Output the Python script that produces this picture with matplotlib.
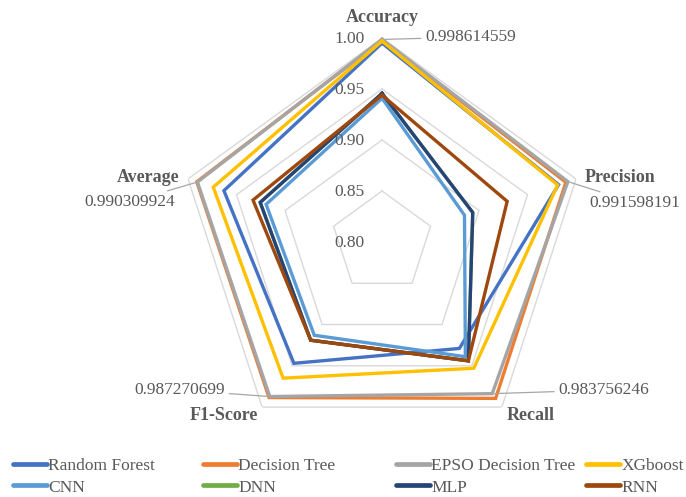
import numpy as np
import matplotlib
matplotlib.use("Agg")
import matplotlib.pyplot as plt
from matplotlib.lines import Line2D

# ---- data ----
categories = ["Accuracy", "Precision", "Recall", "F1-Score", "Average"]

random_forest = [0.995, 0.982, 0.929, 0.947, 0.963]
decision_tree = [0.998, 0.9895, 0.9895, 0.9885, 0.991]
epso_tree = [0.998614559, 0.991598191, 0.983756246, 0.987270699, 0.990309924]
xgboost = [0.997, 0.981, 0.953, 0.965, 0.974]
cnn = [0.941, 0.885, 0.939, 0.913, 0.9195]
dnn = [0.9457, 0.8935, 0.944, 0.919, 0.9256]
mlp = [0.9457, 0.8935, 0.944, 0.919, 0.9256]
rnn = [0.944, 0.929, 0.944, 0.919, 0.933]

series_names = ["Random Forest", "Decision Tree", "EPSO Decision Tree", "XGboost",
                "CNN", "DNN", "MLP", "RNN"]
series_values = [random_forest, decision_tree, epso_tree, xgboost, cnn, dnn, mlp, rnn]
colors = ["#4472C4", "#ED7D31", "#A5A5A5", "#FFC000",
          "#5B9BD5", "#70AD47", "#264478", "#9E480E"]

ring_values = [0.85, 0.90, 0.95, 1.00]
tick_values = [0.80, 0.85, 0.90, 0.95, 1.00]

plt.rcParams["font.family"] = ["Liberation Serif", "DejaVu Serif"]
TXT = "#595959"

fig = plt.figure(figsize=(6.86, 4.97), dpi=100)
ax = fig.add_axes([0.2595, 0.1026, 0.5948, 0.8209], projection="polar")
ax.set_theta_offset(np.pi / 2)
ax.set_theta_direction(-1)
ax.set_ylim(0.80, 1.00)
ax.grid(False)
ax.set_xticks([])
ax.set_yticks([])
ax.spines["polar"].set_visible(False)

n = len(categories)
angles = np.linspace(0, 2 * np.pi, n, endpoint=False)
angles_closed = np.append(angles, angles[0])

# pentagon gridlines
for r in ring_values:
    ax.plot(angles_closed, [r] * (n + 1), color="#D9D9D9", lw=1.0, zorder=1)

# series
for name, vals, c in zip(series_names, series_values, colors):
    v = np.append(vals, vals[0])
    ax.plot(angles_closed, v, color=c, lw=2.4, label=name, zorder=2,
            solid_joinstyle="miter", clip_on=False)

# radial tick labels
for t in tick_values:
    ax.annotate(f"{t:.2f}", xy=(0, t), xytext=(-12.5, -0.8), textcoords="offset points",
                ha="right", va="center", fontsize=12.5, color=TXT)

# category labels
cat_offsets = [(0, 15), (6.5, 1), (3.5, -6), (-3, -6), (-6, 1)]
cat_ha = ["center", "left", "left", "right", "right"]
for a, lab, off, ha in zip(angles, categories, cat_offsets, cat_ha):
    ax.annotate(lab, xy=(a, 1.0), xytext=off, textcoords="offset points",
                ha=ha, va="center", fontsize=13, fontweight="bold", color=TXT)

# data labels for EPSO Decision Tree
lab_offsets = [(31, 1.7), (15.8, -15.4), (47.5, 2.6), (-32.2, 4.7), (-16.1, -14.4)]
lab_ha = ["left", "left", "left", "right", "right"]
for a, v, off, ha in zip(angles, epso_tree, lab_offsets, lab_ha):
    ax.annotate(f"{v:.9f}", xy=(a, v), xytext=off, textcoords="offset points",
                ha=ha, va="center", fontsize=12.5, color=TXT,
                arrowprops=dict(arrowstyle="-", color="#A6A6A6", lw=0.9,
                                shrinkA=1, shrinkB=1))

# legend, four columns placed like the original
col_x = [13 / 686, 203 / 686, 396 / 686, 586 / 686]
for i, x in enumerate(col_x):
    handles = [Line2D([], [], color=colors[i], lw=3.4, solid_capstyle="round"),
               Line2D([], [], color=colors[i + 4], lw=3.4, solid_capstyle="round")]
    labels = [series_names[i], series_names[i + 4]]
    leg = fig.legend(handles, labels, loc="upper left", bbox_to_anchor=(x, 1 - 458 / 497),
                     frameon=False, fontsize=12.5, handlelength=1.95, handletextpad=0.08,
                     labelspacing=0.3, borderaxespad=0, borderpad=0)
    for txt in leg.get_texts():
        txt.set_color(TXT)

fig.savefig("out.png", dpi=100)
